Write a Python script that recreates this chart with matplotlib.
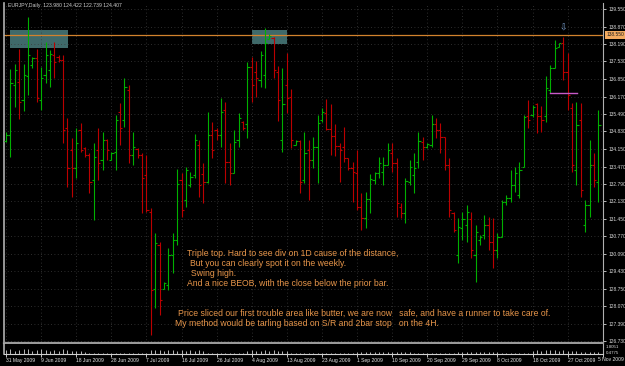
import matplotlib
matplotlib.use('Agg')
import matplotlib.pyplot as plt
import matplotlib.transforms as mtransforms
from matplotlib.patches import Rectangle

plt.rcParams['font.family'] = ['Liberation Sans', 'DejaVu Sans']

# EURJPY daily bars, 31 May 2009 .. early Nov 2009
opens = [134.46, 134.69, 136.62, 136.73, 136.04, 136.97, 137.39, 137.66, 136.04, 137.01,
         137.20, 137.78, 137.70, 137.58, 134.96, 134.11, 133.42, 134.88, 134.19, 133.92,
         132.95, 134.11, 133.72, 134.50, 133.72, 134.03, 135.58, 135.27, 136.43, 133.92,
         134.15, 133.92, 133.15, 131.72, 128.74, 130.44, 128.74, 128.90, 130.06, 130.64,
         132.95, 132.18, 132.76, 133.15, 134.30, 133.18, 132.87, 134.69, 134.88, 134.69,
         135.65, 133.65, 133.22, 134.50, 135.19, 135.11, 137.31, 137.12, 136.81, 137.01,
         138.39, 138.43, 137.12, 134.50, 136.62, 136.16, 134.30, 134.46, 132.95, 134.11,
         133.72, 134.23, 135.27, 135.54, 134.92, 134.65, 134.26, 134.23, 133.80, 133.42,
         133.22, 131.91, 131.49, 132.22, 132.95, 133.22, 133.26, 133.53, 133.99, 133.61,
         131.91, 131.68, 132.87, 133.15, 133.65, 134.42, 134.23, 134.30, 135.11, 134.88,
         134.61, 133.53, 131.68, 130.06, 131.10, 131.22, 131.45, 130.06, 130.64, 130.83,
         131.22, 130.56, 130.25, 130.75, 132.10, 132.26, 132.76, 132.37, 133.45, 135.42,
         135.46, 135.89, 135.42, 135.42, 136.43, 137.28, 138.09, 138.24, 137.12, 135.73,
         133.34, 135.27, 131.22, 131.99, 133.53, 132.87]
highs = [134.80, 137.24, 137.43, 138.01, 137.43, 139.24, 137.70, 138.01, 137.31, 138.28,
         137.97, 138.28, 137.78, 137.78, 135.35, 134.57, 134.96, 135.15, 134.23, 133.99,
         134.38, 134.96, 134.80, 134.53, 134.03, 135.46, 135.92, 136.89, 136.62, 134.80,
         134.19, 133.99, 133.92, 131.87, 130.91, 130.56, 129.01, 130.33, 130.91, 133.38,
         133.22, 133.45, 133.26, 134.73, 134.50, 133.61, 135.58, 135.19, 134.96, 136.12,
         135.96, 134.38, 134.88, 135.54, 135.23, 137.51, 137.70, 137.55, 137.93, 138.82,
         138.59, 138.47, 137.35, 137.28, 137.85, 136.46, 134.50, 134.50, 134.80, 134.50,
         134.61, 135.46, 135.73, 136.08, 135.89, 135.11, 134.38, 135.00, 133.80, 133.65,
         134.11, 132.45, 132.49, 133.18, 133.26, 133.84, 133.84, 134.38, 134.38, 133.80,
         132.06, 133.03, 133.72, 133.99, 134.80, 134.61, 134.38, 135.46, 135.35, 135.15,
         134.61, 133.80, 131.72, 131.49, 131.72, 131.99, 131.72, 131.22, 130.83, 131.60,
         131.52, 131.49, 130.91, 132.18, 132.37, 133.34, 133.45, 133.65, 135.46, 136.04,
         135.85, 135.92, 135.81, 136.97, 137.39, 138.36, 138.24, 138.47, 137.85, 135.92,
         135.96, 135.92, 132.18, 134.50, 133.99, 135.65]
lows = [134.42, 133.84, 135.77, 135.31, 135.62, 136.23, 137.28, 135.96, 135.65, 136.70,
        136.54, 136.89, 137.51, 134.38, 132.68, 132.30, 133.03, 134.03, 133.84, 132.45,
        131.41, 132.95, 133.34, 133.72, 133.72, 133.34, 134.30, 135.00, 133.61, 133.53,
        133.80, 131.68, 131.72, 126.97, 128.01, 127.74, 128.74, 128.71, 129.36, 130.44,
        131.52, 131.91, 132.68, 133.03, 132.30, 132.06, 132.84, 133.80, 134.50, 134.23,
        132.84, 132.76, 133.22, 134.23, 134.88, 134.57, 135.96, 136.16, 136.54, 136.50,
        138.39, 136.89, 135.23, 134.03, 135.54, 134.19, 134.30, 132.45, 132.84, 132.18,
        133.42, 132.84, 135.19, 134.88, 133.92, 133.88, 132.87, 133.65, 133.34, 132.10,
        131.79, 131.02, 131.10, 131.68, 132.80, 133.03, 132.76, 133.53, 133.26, 131.52,
        131.49, 131.29, 132.76, 132.45, 133.42, 133.72, 134.19, 134.23, 134.57, 133.99,
        133.34, 131.52, 130.94, 129.75, 130.64, 130.56, 129.94, 129.01, 130.44, 130.67,
        130.25, 129.55, 129.94, 130.75, 131.99, 132.10, 132.49, 132.26, 133.45, 134.96,
        135.38, 134.77, 134.80, 135.19, 136.31, 137.28, 138.09, 136.81, 135.65, 133.26,
        132.76, 132.30, 130.94, 131.52, 132.68, 132.10]
closes = [134.69, 136.70, 137.20, 135.96, 137.01, 137.78, 137.66, 136.12, 136.89, 137.78,
          137.82, 137.51, 137.58, 134.88, 133.42, 133.42, 134.38, 134.11, 133.92, 132.87,
          133.84, 133.61, 134.50, 134.11, 133.99, 135.27, 134.96, 136.54, 133.92, 134.23,
          133.92, 133.03, 131.79, 128.71, 130.52, 128.32, 128.98, 130.06, 130.64, 132.80,
          131.79, 133.34, 133.07, 134.50, 132.76, 132.87, 134.69, 134.11, 134.69, 135.58,
          133.65, 133.22, 134.42, 135.35, 134.96, 137.31, 136.62, 136.89, 137.78, 138.24,
          138.51, 137.20, 136.04, 135.89, 136.12, 134.50, 134.46, 132.87, 133.99, 133.72,
          134.23, 135.15, 135.58, 134.92, 134.65, 134.26, 134.11, 133.80, 133.42, 133.26,
          131.91, 131.49, 132.22, 132.99, 133.22, 133.61, 133.53, 134.11, 133.61, 132.06,
          131.68, 132.91, 133.45, 133.42, 134.46, 134.23, 134.34, 135.11, 134.88, 134.61,
          133.53, 131.79, 131.02, 131.14, 131.45, 131.72, 130.25, 130.94, 130.75, 131.22,
          130.56, 130.25, 130.75, 132.10, 132.26, 132.76, 133.22, 133.34, 135.38, 135.27,
          135.77, 135.42, 135.27, 136.50, 137.28, 138.05, 138.24, 137.12, 136.23, 133.53,
          135.08, 132.57, 131.99, 133.53, 132.95, 135.08]

# small indicator window under the price chart
indicator = [0.6, 0.7, 0.5, 0.6, 0.7, 0.8, 0.5, 0.6, 0.7, 0.6,
             0.5, 0.6, 0.5, 0.7, 0.6, 0.5, 0.4, 0.5, 0.3, 0.15,
             0.15, 0.15, 0.15, 0.15, 0.15, 0.15, 0.15, 0.15, 0.15, 0.15,
             0.15, 0.15, 0.15, 0.6, 0.55, 0.6, 0.5, 0.55, 0.6, 0.5,
             0.55, 0.5, 0.6, 0.5, 0.55, 0.45, 0.15, 0.15, 0.15, 0.15,
             0.15, 0.15, 0.15, 0.15, 0.15, 0.5, 0.55, 0.5, 0.45, 0.55,
             0.5, 0.55, 0.5, 0.45, 0.5, 0.15, 0.15, 0.15, 0.15, 0.15,
             0.15, 0.15, 0.15, 0.15, 0.15, 0.15, 0.15, 0.15, 0.15, 0.15,
             0.3, 0.35, 0.3, 0.35, 0.3, 0.3, 0.35, 0.3, 0.3, 0.35,
             0.3, 0.3, 0.3, 0.15, 0.15, 0.15, 0.15, 0.15, 0.15, 0.15,
             0.15, 0.15, 0.15, 0.3, 0.35, 0.3, 0.3, 0.35, 0.3, 0.3,
             0.35, 0.3, 0.3, 0.15, 0.15, 0.15, 0.15, 0.15, 0.15, 0.15,
             0.5, 0.55, 0.5, 0.55, 0.6, 0.55, 0.5, 0.55, 0.5, 0.45,
             0.45, 0.3, 0.3, 0.35, 0.3, 0.3]

date_labels = ['31 May 2009', '9 Jun 2009', '18 Jun 2009', '28 Jun 2009', '7 Jul 2009',
               '16 Jul 2009', '26 Jul 2009', '4 Aug 2009', '13 Aug 2009', '23 Aug 2009',
               '1 Sep 2009', '10 Sep 2009', '20 Sep 2009', '29 Sep 2009', '8 Oct 2009',
               '18 Oct 2009', '27 Oct 2009', '5 Nov 2009']
price_ticks = [139.550, 138.870, 138.190, 137.530, 136.850, 136.170, 135.490, 134.830,
               134.150, 133.470, 132.790, 132.130, 131.450, 130.770, 130.090, 129.430,
               128.750, 128.070, 127.390, 126.730]

resistance = 138.55
boxes = [(0.9, 138.05, 13.2, 0.67), (56.0, 138.20, 8.0, 0.54)]   # (bar, price, width, height)

notes = [
    (187, 253, 'Triple top. Hard to see div on 1D cause of the distance,'),
    (190, 264, 'But you can clearly spot it on the weekly.'),
    (191, 274, 'Swing high.'),
    (187, 284, 'And a nice BEOB, with the close below the prior bar.'),
    (178, 313, 'Price sliced our first trouble area like butter, we are now   safe, and have a runner to take care of.'),
    (175, 324, 'My method would be tarling based on S/R and 2bar stop   on the 4H.'),
]

W, H = 625, 366
GREEN = '#00b000'
RED = '#bb0000'
GRID = '#3c3c3c'


def fx(px):
    return px / W


def fy(py):
    return 1 - py / H


fig = plt.figure(figsize=(W / 100, H / 100), dpi=100, facecolor='black')

ax = fig.add_axes([fx(4), fy(343), fx(603) - fx(4), fy(3) - fy(343)])
ax.set_facecolor('black')
ax.set_xlim(-0.46, 136.05)
ax.set_ylim(126.66, 139.78)

n = len(opens)
xs = list(range(n))
date_idx = [8 * k for k in range(len(date_labels))]

# grid
ax.set_xticks(date_idx)
ax.set_yticks(price_ticks)
ax.grid(True, color=GRID, linestyle=(0, (1, 3)), linewidth=0.6)
ax.tick_params(axis='x', length=0, labelbottom=False)
ax.yaxis.tick_right()
ax.set_yticklabels(['%.3f' % p for p in price_ticks])
ax.tick_params(axis='y', colors='#d8d8d8', labelsize=3.5, length=2.5, width=0.6, pad=1.5)

ax.spines['top'].set_visible(False)
ax.spines['left'].set_color('#b0b0b0')
ax.spines['left'].set_linewidth(1.2)
ax.spines['right'].set_color('#b0b0b0')
ax.spines['right'].set_linewidth(0.8)
ax.spines['bottom'].set_color('#9a9a9a')
ax.spines['bottom'].set_linewidth(1.6)

# boxes and horizontal line
for bx, by, bw, bh in boxes:
    ax.add_patch(Rectangle((bx, by), bw, bh, facecolor='#3f6a6a', edgecolor='none', zorder=1))
ax.axhline(resistance, color='#d2822d', linewidth=0.9, zorder=2)

# OHLC bars
for i in xs:
    c = GREEN if closes[i] >= opens[i] else RED
    ax.vlines(i, lows[i], highs[i], color=c, linewidth=0.8, zorder=3)
    ax.hlines(opens[i], i - 0.5, i, color=c, linewidth=0.8, zorder=3)
    ax.hlines(closes[i], i, i + 0.5, color=c, linewidth=0.8, zorder=3)

# stop line and arrow near the third top
ax.plot([123.9, 130.1], [136.31, 136.31], color='#c85ac8', linewidth=1.0, zorder=4)
ax.text(126.9, 138.82, '\u21e9', color='#7aa0d0', fontsize=6.5, ha='center', va='center', zorder=5)

# price label of the horizontal line
trans = mtransforms.blended_transform_factory(ax.transAxes, ax.transData)
ax.text(1.006, resistance, '%.3f' % resistance, transform=trans, fontsize=3.5, color='#202020',
        ha='left', va='center', clip_on=False,
        bbox=dict(boxstyle='square,pad=0.25', facecolor='#f2aa60', edgecolor='none'))

# indicator window
ax2 = fig.add_axes([fx(4), fy(354), fx(603) - fx(4), fy(344) - fy(354)])
ax2.set_facecolor('black')
ax2.set_xlim(-0.46, 136.05)
ax2.set_ylim(0, 1.5)
ax2.vlines(xs, 0, indicator, color='#b8b8b8', linewidth=0.7)
ax2.set_yticks([])
ax2.set_xticks(date_idx)
# last date label sits at the right edge; drawn separately so it stays inside the picture
ax2.set_xticklabels(date_labels[:-1] + [''])
for lbl in ax2.get_xticklabels():
    lbl.set_horizontalalignment('left')
ax2.tick_params(axis='x', colors='#e8e8e8', labelsize=3.6, length=2, width=0.6, pad=1)
ax2.spines['top'].set_visible(False)
ax2.spines['left'].set_color('#b0b0b0')
ax2.spines['left'].set_linewidth(1.2)
ax2.spines['right'].set_color('#b0b0b0')
ax2.spines['right'].set_linewidth(0.8)
ax2.spines['bottom'].set_color('#d0d0d0')
ax2.spines['bottom'].set_linewidth(0.8)
fig.text(fx(624), fy(359.5), date_labels[-1], fontsize=3.6, color='#e8e8e8',
         ha='right', va='center')
fig.text(fx(606), fy(347.5), '1.8051', fontsize=3.2, color='#d8d8d8', va='center')
fig.text(fx(606), fy(352.5), '0.4775', fontsize=3.2, color='#d8d8d8', va='center')

# header
fig.text(fx(8), fy(6), 'EURJPY,Daily  123.980 124.422 122.739 124.407', fontsize=3.7,
         color='#d0d0d0', va='center')

# annotations
for px, py, txt in notes:
    fig.text(fx(px), fy(py), txt, fontsize=6.2, color='#e8964a', va='center', ha='left')

fig.savefig('out.png', dpi=100, facecolor='black')
